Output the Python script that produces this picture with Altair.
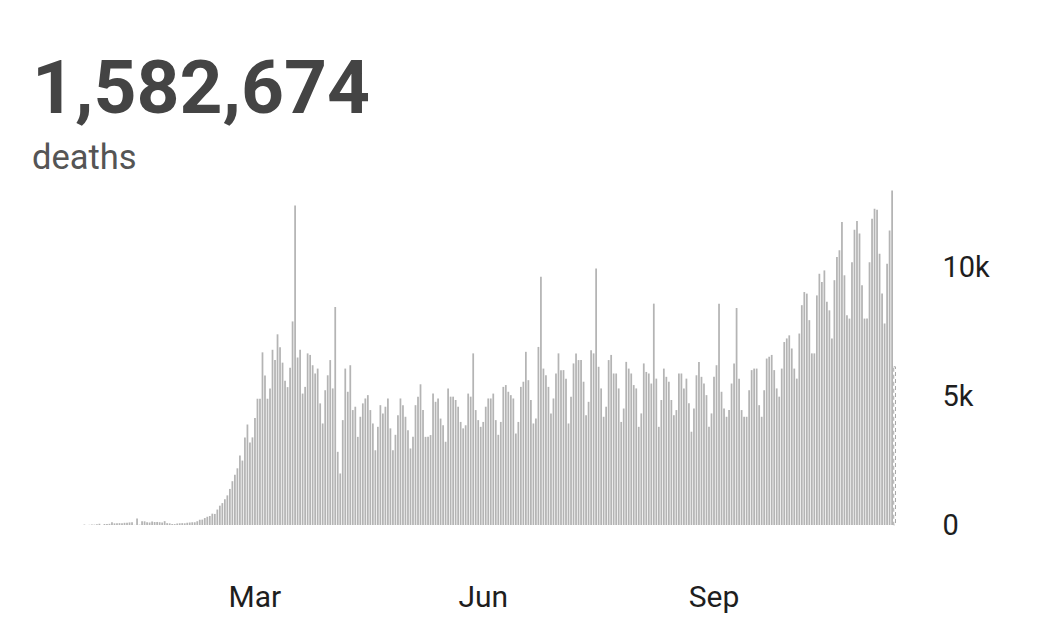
import altair as alt
import pandas as pd

# Daily deaths (one value per day)
deaths_jan_feb = [17, 1, 8, 16, 14, 26, 49, 2, 38, 42, 46, 103, 64, 66, 72, 70, 85, 87, 100, 107,
                  5, 254, 13, 143, 142, 105, 98, 136, 115, 118, 109, 97, 150, 71, 64, 37, 35, 58,
                  67, 72, 66, 85, 95, 105, 110, 150]
deaths_mar_apr = [200, 210, 270, 320, 350, 440, 430, 600, 750, 850, 1000, 1150, 1400, 1700, 1950,
                  2200, 2700, 2500, 3400, 3900, 3200, 3400, 4150, 4900, 4900, 6700, 5800, 4900,
                  5300, 6800, 6400, 7400, 6900, 6300, 5600, 5350, 6100, 7900, 12400, 6500]
deaths_apr_may = [6800, 5100, 5360, 6660, 6600, 6200, 5880, 6070, 4720, 3940, 5230, 5810, 6400,
                  5300, 8460, 2840, 2000, 4070, 6070, 5170, 6200, 4460, 4590, 3420, 4200, 4720,
                  4910, 5040, 4460, 3940, 2900, 3810, 4650, 4330, 4590, 4910, 3750, 2900, 3500, 4260]
deaths_may_jul = [4910, 4650, 4200, 3680, 2970, 3420, 4650, 4980, 5460, 4460, 3420, 3420, 3490,
                  5100, 4780, 4910, 4130, 3870, 3230, 5300, 4980, 4980, 4850, 4590, 4000, 3750,
                  3870, 5100, 4980, 6660, 4460, 4070, 3810, 4000, 4590, 4910, 4910, 5100, 4070, 3500]
deaths_jul_aug = [4000, 5360, 5430, 5170, 5040, 4910, 3550, 4000, 5360, 5560, 6720, 5620, 4850,
                  3940, 4130, 6910, 9630, 6070, 5810, 5360, 4330, 4910, 5880, 6660, 6010, 6010,
                  5680, 3940, 4980, 6270, 6660, 6400, 6400, 5560, 4260, 4780, 6780, 6660, 9950, 6140]
deaths_aug_sep = [5300, 4200, 4590, 6400, 6600, 5880, 5880, 5300, 4000, 4520, 6330, 6070, 5880,
                  5430, 5300, 3810, 4330, 6270, 5940, 5880, 5490, 8590, 5680, 3810, 4850, 6070,
                  5750, 5560, 4850, 4260, 4460, 5880, 5880, 5300, 5680, 4720, 3620, 4520, 5810, 6330]
deaths_sep_nov = [5750, 5490, 5040, 3810, 4330, 5750, 6200, 8590, 5170, 4520, 4200, 4460, 5490,
                  6270, 8420, 5680, 4460, 4200, 4200, 5230, 6010, 6070, 6070, 4650, 4200, 5230,
                  6460, 6530, 6600, 6010, 5300, 4980, 6070, 7100, 7240, 7360, 6850, 6070, 5680, 7430]
deaths_nov_dec = [8530, 9040, 8980, 7950, 6660, 6660, 8910, 9750, 9430, 9880, 8660, 8330, 7240,
                  9500, 10400, 10660, 11760, 9690, 8140, 8010, 10200, 11460, 11800, 11310, 9300,
                  8010, 8010, 10200, 11880, 12270, 12230, 10530, 8980, 7820, 10140, 11430, 12980, 6140]

deaths = (deaths_jan_feb + deaths_mar_apr + deaths_apr_may + deaths_may_jul +
          deaths_jul_aug + deaths_aug_sep + deaths_sep_nov + deaths_nov_dec)
days = list(range(len(deaths)))
partial = [False] * (len(deaths) - 1) + [True]

tick_days = [68, 159, 251]
tick_labels = ["Mar", "Jun", "Sep"]
y_ticks = [0, 5000, 10000]
y_tick_labels = ["0", "5k", "10k"]

df = pd.DataFrame({"day": days, "deaths": deaths, "partial": partial})

x_expr = "".join(f"datum.value == {d} ? '{l}' : " for d, l in zip(tick_days, tick_labels)) + "''"
y_expr = "".join(f"datum.value == {v} ? '{l}' : " for v, l in zip(y_ticks, y_tick_labels)) + "''"

x_enc = alt.X(
    "day:O",
    scale=alt.Scale(paddingInner=0.3, paddingOuter=0.2),
    axis=alt.Axis(values=tick_days, labelExpr=x_expr, title=None, domain=False, ticks=False,
                  labelAngle=0, labelFont="Roboto", labelFontSize=30, labelColor="#1e1e1e",
                  labelPadding=57),
)
y_enc = alt.Y(
    "deaths:Q",
    scale=alt.Scale(domain=[0, 13000], nice=False),
    axis=alt.Axis(orient="right", values=y_ticks, labelExpr=y_expr, title=None, domain=False,
                  ticks=False, grid=False, labelFont="Roboto", labelFontSize=29,
                  labelColor="#1e1e1e", labelAlign="left", labelPadding=46),
)

base = alt.Chart(df).encode(x=x_enc, y=y_enc)
bars = base.mark_bar(color="#b4b4b4").transform_filter("!datum.partial")
last = base.mark_bar(fill="#ffffff", stroke="#a8a8a8", strokeWidth=1,
                     strokeDash=[4, 3]).transform_filter("datum.partial")

chart = alt.layer(bars, last).properties(
    width=813,
    height=335,
    autosize=alt.AutoSizeParams(type="none"),
    padding={"left": 75, "top": 182, "right": 150, "bottom": 95},
    title=alt.TitleParams(
        text="1,582,674", subtitle="deaths", anchor="start", frame="group", dx=-51, offset=14,
        font="Roboto", fontSize=75, fontWeight="bold", color="#444444",
        subtitleFont="Roboto", subtitleFontSize=34.5, subtitleColor="#555555", subtitlePadding=13,
    ),
).configure_view(stroke=None)

chart.save("out.html", embed_options={"renderer": "svg", "actions": False})
